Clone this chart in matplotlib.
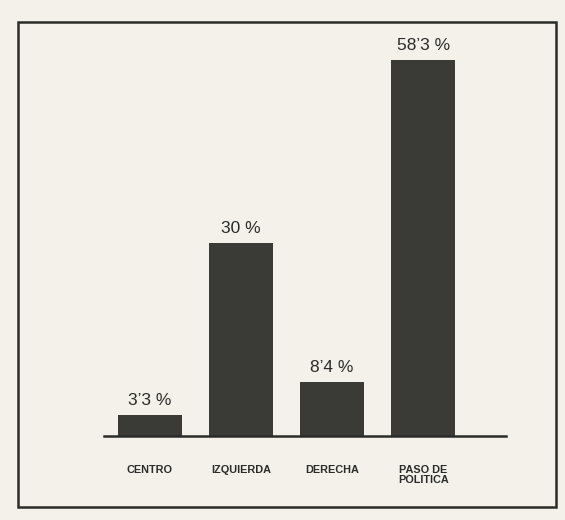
import matplotlib.pyplot as plt
from matplotlib.patches import Rectangle

categories = ['CENTRO', 'IZQUIERDA', 'DERECHA', 'PASO DE\nPOLITICA']
values = [3.3, 30.0, 8.4, 58.3]
value_labels = ['3’3 %', '30 %', '8’4 %', '58’3 %']

W, H = 565, 520
paper = '#f3f1ea'
ink = '#2b2b29'
bar_col = '#3a3a37'

fig = plt.figure(figsize=(W / 100, H / 100), dpi=100, facecolor=paper)

# hand-drawn frame around the chart
fig.patches.append(Rectangle((18 / W, 1 - 507 / H), (556 - 18) / W, (507 - 22) / H,
                             transform=fig.transFigure, fill=False,
                             edgecolor=ink, linewidth=1.8))

# axes: bottom edge is the baseline
left, right, base, top = 104, 506, 436, 22
ax = fig.add_axes([left / W, 1 - base / H, (right - left) / W, (base - top) / H])
ax.set_facecolor('none')
x = range(len(categories))
ax.bar(x, values, width=0.70, color=bar_col, zorder=2)
ax.set_xlim(-0.505, 3.91)
ax.set_ylim(0, 64.2)

for xi, v, lab in zip(x, values, value_labels):
    ax.annotate(lab, (xi, v), xytext=(0, 5), textcoords='offset points',
                ha='center', va='bottom', fontsize=12.5,
                family='Liberation Sans', color=ink)

for s in ['top', 'right', 'left']:
    ax.spines[s].set_visible(False)
ax.spines['bottom'].set_linewidth(1.8)
ax.spines['bottom'].set_color(ink)
ax.set_yticks([])
ax.set_xticks(list(x))
ax.set_xticklabels(categories, fontsize=7.8, fontweight='bold',
                   family='Liberation Sans', color=ink, linespacing=1.0)
ax.tick_params(axis='x', length=0, pad=21)

fig.savefig('out.png', dpi=100, facecolor=paper)
